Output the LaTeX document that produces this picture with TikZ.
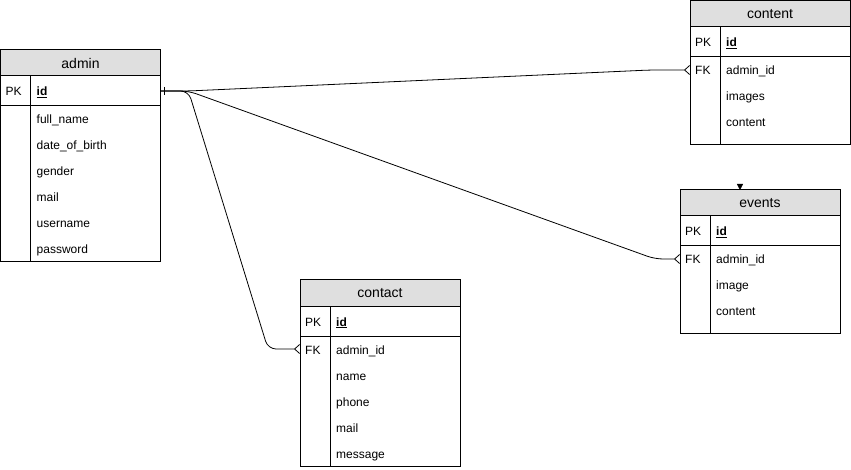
\documentclass[tikz,border=0pt]{standalone}
\usepackage{fontspec}
\setmainfont{Liberation Sans}
\usetikzlibrary{positioning,arrows.meta}

\tikzset{
  tblhead/.style={draw, line width=1pt, fill=gray!25, minimum width=160pt, minimum height=26pt,
    inner sep=0pt, outer sep=0pt, font=\fontsize{14}{16}\selectfont},
  pkrow/.style={draw, line width=1pt, minimum width=160pt, minimum height=30pt, inner sep=0pt, outer sep=0pt},
  tblbody/.style={draw, line width=1pt, minimum width=160pt, inner sep=0pt, outer sep=0pt},
  field/.style={anchor=west, inner sep=0pt, text height=12pt, text depth=2pt, font=\fontsize{12}{14}\selectfont},
  rel/.style={line width=0.8pt, rounded corners=8pt},
  many/.style={-{Straight Barb[reversed,length=5pt,width=9pt,line width=0.8pt]}}
}

\begin{document}
\begin{tikzpicture}[x=1pt, y=-1pt]
  \useasboundingbox (0,0) rectangle (851,470);

  % admin table
  \node[tblhead] (admin) at (80.5,63) {admin};
  \node[pkrow, below=0pt of admin] (admin-pk) {};
  \node[tblbody, minimum height=156pt, below=0pt of admin-pk] (admin-body) {};
  \draw[line width=1pt] ([xshift=30pt]admin-pk.north west) -- ([xshift=30pt]admin-body.south west);
  \node[field, right=5pt of admin-pk.west] (admin-pkkey) {PK};
  \node[field, right=36pt of admin-pk.west] (admin-id) {\textbf{\underline{id}}};
  \foreach \f [count=\i] in {full\_name, date\_of\_birth, gender, mail, username, password}
    \node[field] (admin-f\i) at ([xshift=36pt, yshift={(13-26*\i)*1pt}]admin-body.north west) {\f};

  % content table
  \node[tblhead] (content) at (770,14) {content};
  \node[pkrow, below=0pt of content] (content-pk) {};
  \node[tblbody, minimum height=88pt, below=0pt of content-pk] (content-body) {};
  \draw[line width=1pt] ([xshift=30pt]content-pk.north west) -- ([xshift=30pt]content-body.south west);
  \node[field, right=5pt of content-pk.west] (content-pkkey) {PK};
  \node[field, right=36pt of content-pk.west] (content-id) {\textbf{\underline{id}}};
  \coordinate (content-fk) at ([yshift=-13pt]content-body.north west);
  \node[field, right=5pt of content-fk] (content-fkkey) {FK};
  \foreach \f [count=\i] in {admin\_id, images, content}
    \node[field] (content-f\i) at ([xshift=36pt, yshift={(13-26*\i)*1pt}]content-body.north west) {\f};

  % events table
  \node[tblhead] (events) at (760,203) {events};
  \node[pkrow, below=0pt of events] (events-pk) {};
  \node[tblbody, minimum height=87pt, below=0pt of events-pk] (events-body) {};
  \draw[line width=1pt] ([xshift=30pt]events-pk.north west) -- ([xshift=30pt]events-body.south west);
  \node[field, right=5pt of events-pk.west] (events-pkkey) {PK};
  \node[field, right=36pt of events-pk.west] (events-id) {\textbf{\underline{id}}};
  \coordinate (events-fk) at ([yshift=-13pt]events-body.north west);
  \node[field, right=5pt of events-fk] (events-fkkey) {FK};
  \foreach \f [count=\i] in {admin\_id, image, content}
    \node[field] (events-f\i) at ([xshift=36pt, yshift={(13-26*\i)*1pt}]events-body.north west) {\f};
  \draw[-{Triangle[width=6pt,length=6pt]}] ([xshift=-20pt,yshift=6pt]events.north) -- ([xshift=-20pt]events.north);

  % contact table
  \node[tblhead] (contact) at (380,293) {contact};
  \node[pkrow, below=0pt of contact] (contact-pk) {};
  \node[tblbody, minimum height=130pt, below=0pt of contact-pk] (contact-body) {};
  \draw[line width=1pt] ([xshift=30pt]contact-pk.north west) -- ([xshift=30pt]contact-body.south west);
  \node[field, right=5pt of contact-pk.west] (contact-pkkey) {PK};
  \node[field, right=36pt of contact-pk.west] (contact-id) {\textbf{\underline{id}}};
  \coordinate (contact-fk) at ([yshift=-13pt]contact-body.north west);
  \node[field, right=5pt of contact-fk] (contact-fkkey) {FK};
  \foreach \f [count=\i] in {admin\_id, name, phone, mail, message}
    \node[field] (contact-f\i) at ([xshift=36pt, yshift={(13-26*\i)*1pt}]contact-body.north west) {\f};

  % relations: one admin, many rows
  \draw[line width=0.8pt] ([xshift=4pt]admin-pk.east) ++(0,-4) -- ++(0,8);
  \draw[rel, many] (admin-pk.east) -- ++(28,0) -- ([xshift=-40pt]content-fk) -- (content-fk);
  \draw[rel, many] (admin-pk.east) -- ++(28,0) -- ([xshift=-25pt]events-fk) -- (events-fk);
  \draw[rel, many] (admin-pk.east) -- ++(28,0) -- ([xshift=-32pt]contact-fk) -- (contact-fk);
\end{tikzpicture}
\end{document}
